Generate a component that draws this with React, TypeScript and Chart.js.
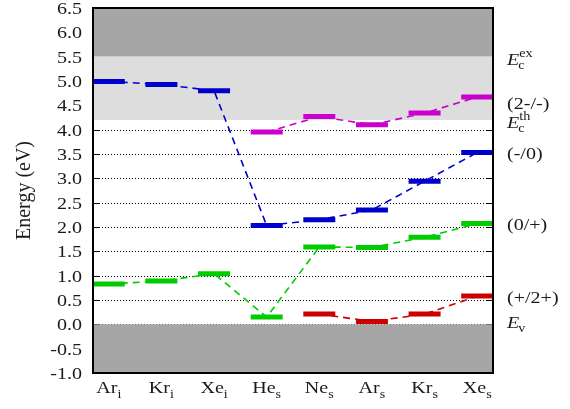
import { useEffect, useRef } from "react";
import { Chart, registerables } from "chart.js";

Chart.register(...registerables);

// Host sites (element + interstitial/substitutional subscript)
const categories = ["Ar", "Kr", "Xe", "He", "Ne", "Ar", "Kr", "Xe"];
const siteSubscripts = ["i", "i", "i", "s", "s", "s", "s", "s"];

// Charge-transition levels (eV), null where the level is absent
const level2MinusMinus = [null, null, null, 3.95, 4.27, 4.1, 4.34, 4.67];
const levelMinusZero = [4.99, 4.93, 4.8, 2.03, 2.15, 2.35, 2.94, 3.53];
const levelZeroPlus = [0.83, 0.89, 1.04, 0.15, 1.59, 1.58, 1.79, 2.07];
const levelPlus2Plus = [null, null, null, null, 0.21, 0.06, 0.21, 0.58];

const seriesLevels = [level2MinusMinus, levelMinusZero, levelZeroPlus, levelPlus2Plus];
const seriesColors = ["#cc00cc", "#0000cc", "#00cc00", "#cc0000"];

// Energy axis
const yTickValues = [-1.0, -0.5, 0.0, 0.5, 1.0, 1.5, 2.0, 2.5, 3.0, 3.5, 4.0, 4.5, 5.0, 5.5, 6.0, 6.5];
const yMin = -1.0;
const yMax = 6.5;

// Band edges
const valenceEdge = 0.0;
const thermalGapEdge = 4.2;
const excitonGapEdge = 5.5;

// Labels on the right-hand side
const edgeLabels = [
  { main: "E", sub: "c", sup: "ex", value: 5.46 },
  { main: "(2-/-)", value: 4.54 },
  { main: "E", sub: "c", sup: "th", value: 4.16 },
  { main: "(-/0)", value: 3.53 },
  { main: "(0/+)", value: 2.07 },
  { main: "(+/2+)", value: 0.56 },
  { main: "E", sub: "v", value: 0.05 },
];

const SERIF = "'Liberation Serif', 'Times New Roman', serif";
const SX = 1.18; // horizontal text stretch
const TEXT = "#1a1a1a";

function drawText(
  ctx: CanvasRenderingContext2D,
  text: string,
  x: number,
  y: number,
  font: string,
  align: CanvasTextAlign = "left",
  baseline: CanvasTextBaseline = "alphabetic"
) {
  ctx.save();
  ctx.font = font;
  ctx.textAlign = align;
  ctx.textBaseline = baseline;
  ctx.fillStyle = TEXT;
  ctx.translate(x, y);
  ctx.scale(SX, 1);
  ctx.fillText(text, 0, 0);
  ctx.restore();
}

function textWidth(ctx: CanvasRenderingContext2D, text: string, font: string) {
  ctx.save();
  ctx.font = font;
  const w = ctx.measureText(text).width * SX;
  ctx.restore();
  return w;
}

const bandsAndFrame = {
  id: "bandsAndFrame",
  beforeDatasetsDraw(chart: any) {
    const { ctx, chartArea, scales } = chart;
    const { left, right, top, bottom } = chartArea;
    const y = scales.y;
    ctx.save();
    // dotted grid
    ctx.strokeStyle = "#000";
    ctx.lineWidth = 1;
    ctx.setLineDash([1, 2]);
    ctx.beginPath();
    for (const v of yTickValues) {
      const py = Math.round(y.getPixelForValue(v)) + 0.5;
      ctx.moveTo(left, py);
      ctx.lineTo(right, py);
    }
    ctx.stroke();
    // inward tick marks
    ctx.setLineDash([]);
    ctx.beginPath();
    for (const v of yTickValues) {
      const py = Math.round(y.getPixelForValue(v)) + 0.5;
      ctx.moveTo(left, py);
      ctx.lineTo(left + 7, py);
      ctx.moveTo(right - 7, py);
      ctx.lineTo(right, py);
    }
    ctx.stroke();
    // energy bands
    const yTop = y.getPixelForValue(yMax);
    const yEx = y.getPixelForValue(excitonGapEdge);
    const yTh = y.getPixelForValue(thermalGapEdge);
    const yV = y.getPixelForValue(valenceEdge);
    const yBot = y.getPixelForValue(yMin);
    ctx.fillStyle = "#a6a6a6";
    ctx.fillRect(left, Math.min(top, yTop), right - left, yEx - Math.min(top, yTop));
    ctx.fillRect(left, yV, right - left, Math.max(bottom, yBot) - yV);
    ctx.fillStyle = "#dddddd";
    ctx.fillRect(left, yEx, right - left, yTh - yEx);
    ctx.restore();
  },
  afterDatasetsDraw(chart: any) {
    const { ctx, chartArea } = chart;
    const { left, right, top, bottom } = chartArea;
    ctx.save();
    ctx.strokeStyle = "#000";
    ctx.lineWidth = 2;
    ctx.strokeRect(left, top, right - left, bottom - top);
    ctx.restore();
  },
  afterDraw(chart: any) {
    const { ctx, chartArea, scales } = chart;
    const { left, right, top, bottom } = chartArea;
    const x = scales.x;
    const y = scales.y;
    const tickFont = `17px ${SERIF}`;
    const subFont = `12px ${SERIF}`;

    // energy tick labels
    for (const v of yTickValues) {
      drawText(ctx, v.toFixed(1), left - 11, y.getPixelForValue(v) + 1.5, tickFont, "right", "middle");
    }

    // site labels with subscripts
    categories.forEach((name, i) => {
      const w1 = textWidth(ctx, name, tickFont);
      const w2 = textWidth(ctx, siteSubscripts[i], subFont);
      const cx = x.getPixelForValue(i);
      const sx = cx - (w1 + w2) / 2;
      drawText(ctx, name, sx, bottom + 20, tickFont);
      drawText(ctx, siteSubscripts[i], sx + w1, bottom + 25, subFont);
    });

    // band-edge and transition labels
    const lx = right + 14;
    for (const lab of edgeLabels) {
      const py = y.getPixelForValue(lab.value);
      if (lab.sub) {
        const eFont = `italic 17px ${SERIF}`;
        drawText(ctx, lab.main, lx, py + 6, eFont);
        const wE = textWidth(ctx, lab.main, eFont);
        drawText(ctx, lab.sub, lx + wE - 1, py + 10, subFont);
        if (lab.sup) drawText(ctx, lab.sup, lx + wE, py - 2, subFont);
      } else {
        drawText(ctx, lab.main, lx, py + 1.5, tickFont, "left", "middle");
      }
    }

    // axis title
    ctx.save();
    ctx.translate(24, (top + bottom) / 2);
    ctx.rotate(-Math.PI / 2);
    ctx.scale(1, 1.05);
    ctx.font = `20px ${SERIF}`;
    ctx.fillStyle = TEXT;
    ctx.textAlign = "center";
    ctx.textBaseline = "middle";
    ctx.fillText("Energy (eV)", 0, 0);
    ctx.restore();
  },
};

export default function App() {
  const canvasRef = useRef<HTMLCanvasElement | null>(null);

  useEffect(() => {
    document.body.style.margin = "0";
    const canvas = canvasRef.current;
    if (!canvas) return;

    const datasets: any[] = [];
    seriesLevels.forEach((levels, s) => {
      const pts = levels
        .map((v, i) => (v == null ? null : { x: i, y: v }))
        .filter((p) => p !== null);
      // level markers
      datasets.push({
        data: pts,
        showLine: false,
        pointStyle: "line",
        pointRadius: 16,
        pointHoverRadius: 16,
        pointBorderWidth: 5,
        pointHoverBorderWidth: 5,
        pointBorderColor: seriesColors[s],
        pointBackgroundColor: seriesColors[s],
        order: 0,
      });
      // dashed connectors
      datasets.push({
        data: pts,
        showLine: true,
        borderColor: seriesColors[s],
        borderWidth: 1.6,
        borderDash: [7, 5],
        pointRadius: 0,
        pointHoverRadius: 0,
        order: 1,
      });
    });

    const chart = new Chart(canvas, {
      type: "scatter",
      data: { datasets },
      options: {
        responsive: false,
        animation: false,
        events: [],
        layout: { autoPadding: false, padding: { left: 93, right: 77, top: 8, bottom: 36 } },
        plugins: { legend: { display: false }, tooltip: { enabled: false } },
        scales: {
          x: { type: "linear", min: -0.3, max: 7.3, display: false },
          y: { type: "linear", min: yMin, max: yMax, display: false },
        },
      },
      plugins: [bandsAndFrame],
    });

    return () => chart.destroy();
  }, []);

  return <canvas ref={canvasRef} width={570} height={409} style={{ display: "block" }} />;
}
